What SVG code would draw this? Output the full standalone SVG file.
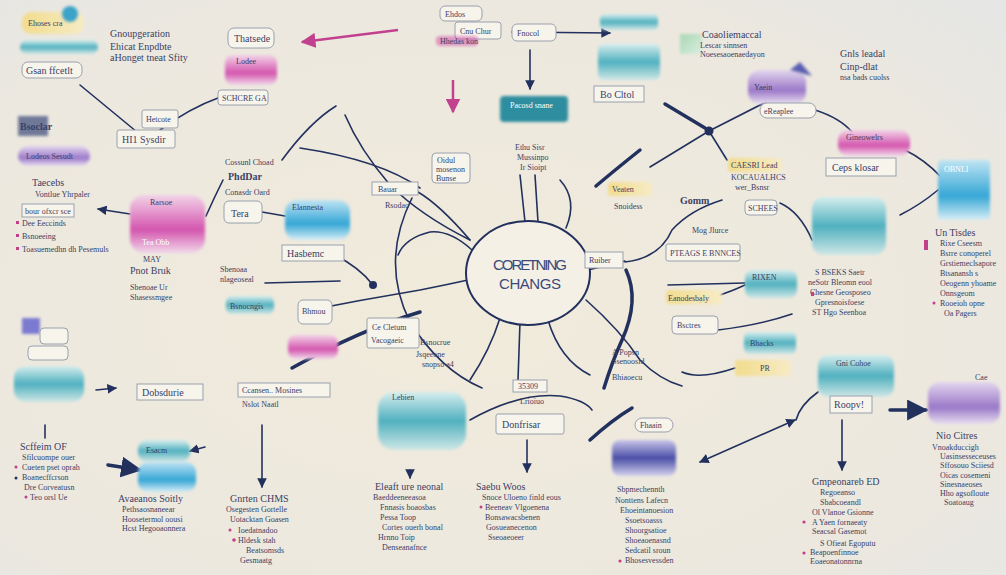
<svg xmlns="http://www.w3.org/2000/svg" width="1006" height="575" viewBox="0 0 1006 575">
<defs>
<radialGradient id="bg" cx="0.45" cy="0.55" r="0.8"><stop offset="0" stop-color="#f1ebdb"/><stop offset="0.7" stop-color="#ece8df"/><stop offset="1" stop-color="#e4e6e6"/></radialGradient>
<linearGradient id="gTeal" x1="0" y1="0" x2="0" y2="1"><stop offset="0" stop-color="#d6eeee"/><stop offset="0.5" stop-color="#4fb0bf"/><stop offset="1" stop-color="#cfe7e6"/></linearGradient>
<linearGradient id="gBlue" x1="0" y1="0" x2="0" y2="1"><stop offset="0" stop-color="#bfe4f3"/><stop offset="0.6" stop-color="#35a6d6"/><stop offset="1" stop-color="#d7eef5"/></linearGradient>
<linearGradient id="gPurple" x1="0" y1="0" x2="0" y2="1"><stop offset="0" stop-color="#e3d6ee"/><stop offset="0.6" stop-color="#9a78c8"/><stop offset="1" stop-color="#e8def0"/></linearGradient>
<linearGradient id="gPink" x1="0" y1="0" x2="0" y2="1"><stop offset="0" stop-color="#f2d3e8"/><stop offset="0.6" stop-color="#d455ae"/><stop offset="1" stop-color="#f1d7ea"/></linearGradient>
<linearGradient id="gYellow" x1="0" y1="0" x2="1" y2="0"><stop offset="0" stop-color="#f2dc8c"/><stop offset="1" stop-color="#f6ebc4"/></linearGradient>
<linearGradient id="gGreen" x1="0" y1="0" x2="1" y2="1"><stop offset="0" stop-color="#a9d7b2"/><stop offset="1" stop-color="#d9eee2"/></linearGradient>
<linearGradient id="gNavy" x1="0" y1="0" x2="0" y2="1"><stop offset="0" stop-color="#c9c6ea"/><stop offset="0.5" stop-color="#4a4ea6"/><stop offset="1" stop-color="#d4d2ee"/></linearGradient>
<filter id="soft" x="-20%" y="-20%" width="140%" height="140%"><feGaussianBlur stdDeviation="1.6"/></filter>
<marker id="ah" viewBox="0 0 10 10" refX="9" refY="5" markerWidth="6" markerHeight="6" orient="auto-start-reverse"><path d="M0,0 L10,5 L0,10 z" fill="#22305e"/></marker>
<marker id="ahp" viewBox="0 0 10 10" refX="9" refY="5" markerWidth="6" markerHeight="6" orient="auto"><path d="M0,0 L10,5 L0,10 z" fill="#c2418f"/></marker>
</defs>
<style>
.t{font-family:"Liberation Serif",serif;font-size:10px;fill:#3b4164}
.s{font-size:8px}
.w{fill:#ffffff}
.b{font-weight:bold}
.bx{fill:#f7f4ec;stroke:#9aa0ad;stroke-width:1}
.c{fill:none;stroke:#22305e;stroke-width:1.6;stroke-linecap:round}
.k{stroke-width:3.5}
.p{fill:none;stroke:#c2418f;stroke-width:2.5}
.dot{fill:#22305e}
.bl{filter:url(#soft)}
.bul{fill:#c0418a}
</style>
<rect width="1006" height="575" fill="url(#bg)"/>

<g id="connectors">
<path class="c" d="M80 85 L137 132"/>
<path class="c" d="M160 130 Q190 108 218 98"/>
<path class="c" d="M282 160 Q310 122 336 106"/>
<path class="c" marker-end="url(#ah)" d="M130 214 L98 209"/>
<path class="c" d="M206 216 Q214 198 223 180"/>
<path class="c" d="M262 212 L285 216"/>
<path class="c" d="M345 115 Q360 150 390 185 Q420 215 470 240"/>
<path class="c" d="M300 148 Q380 160 420 188"/>
<path class="c" d="M335 255 Q360 268 372 284"/>
<circle class="dot" cx="373" cy="285" r="4"/>
<path class="c" d="M265 283 L340 281"/>
<path class="c" d="M300 312 Q360 300 420 290 Q450 284 468 280"/>
<path class="c k" d="M292 368 Q360 330 420 312"/>
<path class="c" d="M412 198 Q380 262 410 322 Q440 370 482 388"/>
<path class="c" d="M470 240 Q440 205 418 192"/>
<path class="c" d="M520 175 L525 222"/>
<path class="c" d="M535 175 L538 222"/>
<path class="c" d="M560 180 Q578 200 566 228"/>
<path class="c" d="M472 250 Q450 230 430 232 Q405 238 398 255"/>
<path class="c" d="M588 270 L625 261"/>
<path class="c" d="M625 262 Q660 258 672 230 Q690 210 722 200"/>
<path class="c k" d="M626 270 Q640 300 622 340 Q612 362 604 388"/>
<path class="c" d="M586 300 Q620 330 640 360 Q660 380 682 386"/>
<path class="c" d="M548 320 Q560 360 590 375"/>
<path class="c" d="M500 318 Q490 350 470 380"/>
<path class="c" d="M520 322 L518 380"/>
<circle class="dot" cx="709" cy="131" r="4.5"/>
<path class="c" d="M709 131 L650 167"/>
<path class="c" d="M709 131 L766 102"/>
<path class="c" d="M709 131 L727 160"/>
<path class="c k" d="M665 104 L705 128"/>
<path class="c" d="M815 110 Q840 118 852 132"/>
<path class="c" d="M905 150 Q925 160 940 176"/>
<path class="c" d="M900 215 Q920 205 938 190"/>
<path class="c" d="M780 203 Q800 212 812 240"/>
<path class="c" d="M745 283 L668 285"/>
<path class="c k" d="M596 186 Q615 170 640 150"/>
<path class="c" d="M700 302 Q730 292 745 285"/>
<path class="c" d="M718 330 Q760 325 792 314"/>
<path class="c" d="M735 368 Q700 380 682 372"/>
<path class="c" d="M470 420 Q520 392 560 396 Q585 400 592 410"/>
<path class="c k" d="M590 440 Q612 420 632 408"/>
<path class="c" marker-start="url(#ah)" marker-end="url(#ah)" d="M700 462 L795 420"/>
<path class="c" d="M818 392 Q800 405 796 420"/>
<path class="c" marker-end="url(#ah)" d="M842 420 L842 470"/>
<path class="c" marker-end="url(#ah)" d="M527 440 L527 472"/>
<path class="c" marker-end="url(#ah)" d="M262 425 L262 487"/>
<path class="c k" marker-end="url(#ah)" d="M890 410 L926 410"/>
<path class="p" marker-end="url(#ahp)" d="M398 30 L302 42"/>
<path class="c" marker-end="url(#ah)" d="M512 32 L610 33"/>
<path class="c" marker-end="url(#ah)" d="M530 50 L530 89"/>
<path class="p" marker-end="url(#ahp)" d="M453 80 L453 112"/>
<path class="c k" marker-end="url(#ah)" d="M108 465 L140 470"/>
<path class="c" marker-end="url(#ah)" d="M205 447 L190 451"/>
<path class="c" marker-end="url(#ah)" d="M96 390 L116 388"/>
<path class="c" marker-end="url(#ah)" d="M410 470 L410 478"/>
<path class="c" d="M45 425 L45 438"/>
<path class="c" d="M400 440 Q420 425 440 405"/>
</g>

<g id="center"><ellipse cx="528" cy="273" rx="62" ry="52" fill="#f4f0e6" stroke="#22305e" stroke-width="2"/>
<text x="530" y="270" text-anchor="middle" font-family="Liberation Sans,sans-serif" font-size="15" fill="#3c4a78" textLength="74">CORETNING</text>
<text x="530" y="289" text-anchor="middle" font-family="Liberation Sans,sans-serif" font-size="15" fill="#3c4a78" textLength="62">CHANGS</text></g>

<g id="n1"><rect class="bl" x="22" y="12" width="62" height="22" rx="9" fill="url(#gYellow)"/><circle class="bl" cx="70" cy="14" r="8" fill="#3aa3c8"/><text class="t s" x="28" y="26">Ehoses cra</text>
<rect class="bl" x="20" y="40" width="78" height="14" rx="7" fill="url(#gTeal)"/>
<rect class="bx" x="22" y="62" width="60" height="16" rx="6"/><text class="t" x="26" y="74">Gsan ffcetlt</text></g>
<g id="n2"><text class="t" x="110" y="37">Gnoupgeration</text><text class="t" x="110" y="50">Ehicat Enpdbte</text><text class="t" x="110" y="61">aHonget tneat Sfity</text></g>
<g id="n3"><rect class="bx" x="228" y="28" width="46" height="20" rx="6" stroke="#9a78c8"/><text class="t" x="234" y="42" fill="#5b4a8a">Thatsede</text>
<rect class="bl" x="225" y="55" width="52" height="30" rx="8" fill="url(#gPink)"/><text class="t s" x="236" y="64">Lodee</text></g>
<g id="n4"><rect class="bx" x="218" y="90" width="50" height="15" rx="3"/><text class="t s" x="222" y="101">SCHCRE GA</text></g>
<g id="n5"><rect class="bx" x="142" y="110" width="36" height="18" rx="2" stroke="#4fb0bf"/><text class="t s" x="146" y="122">Hetcote</text>
<rect class="bx" x="117" y="130" width="58" height="18" rx="2"/><text class="t" x="122" y="143">HI1 Sysdir</text></g>
<g id="n6"><rect class="bl" x="18" y="116" width="30" height="20" fill="#3a4b7a" opacity="0.7"/><text class="t b" x="20" y="130" fill="#2e3a66">Bsoclar</text>
<rect class="bl" x="18" y="146" width="72" height="20" rx="10" fill="url(#gPurple)"/><text class="t s" x="26" y="159">Lodeos Sesudt</text>
<text class="t" x="32" y="186">Taecebs</text><text class="t s" x="35" y="197">Vontlue Yhrpaler</text></g>
<g id="n7"><rect class="bx" x="22" y="204" width="52" height="13"/><text class="t s" x="25" y="214">bour ofxcr sce</text>
<rect class="bul" x="16" y="221" width="3" height="3"/><text class="t s" x="22" y="226">Dee Eeccinds</text>
<rect class="bul" x="16" y="234" width="3" height="3"/><text class="t s" x="22" y="239">Bsnoeeing</text>
<rect class="bul" x="16" y="247" width="3" height="3"/><text class="t s" x="22" y="252">Toasuemedhn dh Pesemuls</text></g>
<g id="n8"><rect class="bl" x="130" y="195" width="75" height="58" rx="14" fill="url(#gPink)"/><text class="t s" x="150" y="205">Rarsoe</text><text class="t s w" x="142" y="245">Tea Obb</text></g>
<g id="n9"><text class="t s" x="225" y="165">Cossunl Choad</text><text class="t b" x="228" y="180" fill="#2f6f9a">PhdDar</text><text class="t s" x="225" y="195">Conasdr Oard</text>
<rect class="bx" x="224" y="201" width="38" height="22" rx="5" stroke="#4fb0bf"/><text class="t" x="231" y="217" font-size="13">Tera</text></g>
<g id="n10"><rect class="bl" x="285" y="200" width="65" height="40" rx="12" fill="url(#gBlue)"/><text class="t s" x="292" y="210">Elannesta</text>
<rect class="bx" x="282" y="245" width="62" height="16"/><text class="t" x="287" y="257">Hasbemc</text></g>
<g id="n11"><text class="t s" x="143" y="262">MAY</text><text class="t" x="130" y="274">Pnot Bruk</text><text class="t s" x="130" y="290">Sbenoae Ur</text><text class="t s" x="130" y="300">Shasessmgee</text></g>
<g id="n12"><text class="t s" x="220" y="272" fill="#3d8a5a">Sbenoaa</text><text class="t s" x="220" y="282" fill="#3d8a5a">nlageoseal</text>
<rect class="bl" x="226" y="296" width="48" height="18" rx="6" fill="url(#gTeal)"/><text class="t s" x="230" y="309">Bsnocngis</text>
<rect class="bx" x="298" y="300" width="34" height="24" rx="5"/><text class="t s" x="302" y="314">Bhmou</text>
<rect class="bl" x="288" y="335" width="50" height="24" rx="8" fill="url(#gPink)"/></g>
<g id="n13"><rect class="bl" x="22" y="318" width="18" height="16" fill="#7c7ad0"/><rect class="bx" x="40" y="328" width="28" height="16" rx="4"/><rect class="bx" x="28" y="346" width="40" height="14" rx="4" stroke="#4fb0bf"/>
<rect class="bl" x="14" y="366" width="70" height="36" rx="12" fill="url(#gTeal)"/></g>
<g id="n14"><rect class="bx" x="137" y="384" width="66" height="16"/><text class="t" x="142" y="396">Dobsdurie</text></g>
<g id="n15"><rect class="bx" x="238" y="383" width="92" height="14" stroke="#4fb0bf"/><text class="t s" x="242" y="393">Ccansen..  Mosines</text><text class="t s" x="242" y="407">Nslot Naatl</text></g>
<g id="n16"><text class="t" x="20" y="450">Scffeim OF</text>
<text class="t s" x="22" y="460">Sfilcuompe ouer</text><text class="t s" x="22" y="470">Cueten pset oprah</text><text class="t s" x="22" y="480">Boanecffcrson</text><text class="t s" x="24" y="490">Dre Corveatusn</text><text class="t s" x="30" y="500">Teo orsl Ue</text>
<circle class="bul" cx="16" cy="467" r="1.5"/><circle class="dot" cx="16" cy="478" r="1.5"/><circle class="bul" cx="26" cy="497" r="1.5"/></g>
<g id="n17"><rect class="bl" x="138" y="440" width="52" height="22" rx="9" fill="url(#gTeal)"/><text class="t s" x="146" y="453">Esacm</text>
<rect class="bl" x="138" y="462" width="58" height="30" rx="10" fill="url(#gBlue)"/></g>
<g id="n18"><text class="t" x="118" y="502">Avaeanos Soitly</text><text class="t s" x="122" y="512">Pethsaosnaneear</text><text class="t s" x="122" y="522">Hoosetermol oousi</text><text class="t s" x="122" y="531">Hcst Hegooaonnera</text></g>
<g id="n19"><text class="t" x="230" y="502">Gnrten CHMS</text><text class="t s" x="226" y="512">Osegesten Gortelle</text><text class="t s" x="230" y="522">Uotacktan Goasen</text>
<text class="t s" x="238" y="533">Ioedatnadoo</text><text class="t s" x="238" y="543">Hldesk stah</text><text class="t s" x="246" y="553">Beatsomsds</text><text class="t s" x="240" y="563">Gesmaatg</text>
<circle class="bul" cx="230" cy="530" r="1.5"/><circle class="bul" cx="234" cy="540" r="1.8"/></g>
<g id="n20"><rect class="bl" x="378" y="392" width="88" height="58" rx="16" fill="url(#gTeal)"/><text class="t s" x="392" y="400">Lebien</text></g>
<g id="n21"><text class="t" x="375" y="490">Eleaft ure neonal</text><text class="t s" x="373" y="500">Baeddeeneeasoa</text><text class="t s" x="380" y="510">Fnnasis boaosbas</text><text class="t s" x="380" y="520">Pessa Toop</text><text class="t s" x="382" y="530">Cortes ouerh bonal</text><text class="t s" x="378" y="540">Hrnno Toip</text><text class="t s" x="382" y="550">Denseanafnce</text></g>
<g id="n22"><text class="t" x="476" y="490">Saebu  Woos</text><text class="t s" x="482" y="500">Snoce Uloeno finld eous</text><text class="t s" x="485" y="510">Beeneav Vlgoenena</text><text class="t s" x="485" y="520">Bonsawacsbenen</text><text class="t s" x="486" y="530">Gosueanecenon</text><text class="t s" x="488" y="540">Sseoaeoeer</text><circle class="bul" cx="481" cy="507" r="1.5"/></g>
<g id="n23"><rect class="bx" x="513" y="380" width="34" height="12"/><text class="t s" x="518" y="389">35309</text><text class="t s" x="520" y="404">Lrioiuo</text>
<rect class="bx" x="496" y="414" width="68" height="20" rx="2" stroke="#6cb8c5"/><text class="t" x="502" y="428" fill="#2f5a84">Donfrisar</text></g>
<g id="n24"><rect class="bx" x="635" y="418" width="38" height="14" rx="7"/><text class="t s" x="640" y="428">Fhaain</text><rect class="bl" x="612" y="440" width="64" height="36" rx="8" fill="url(#gNavy)"/>
<text class="t s" x="617" y="492">Sbpmechennth</text><text class="t s" x="615" y="503">Nonttens Lafecn</text><text class="t s" x="620" y="513">Ehoeintanoesion</text><text class="t s" x="625" y="523">Ssoetsoasss</text><text class="t s" x="625" y="533">Shoorgsatioe</text><text class="t s" x="625" y="543">Shoeaoenasnd</text><text class="t s" x="625" y="553">Sedcatil sroun</text><text class="t s" x="625" y="563">Bhosesvessden</text>
<circle class="bul" cx="620" cy="561" r="1.6"/></g>
<g id="n26"><text class="t s" x="515" y="150">Ethu Sisr</text><text class="t s" x="517" y="160">Mussinpo</text><text class="t s" x="520" y="170">Ir Sioipt</text></g>
<g id="n27"><rect class="bx" x="432" y="153" width="38" height="30" rx="4" fill="#f3efe5"/><text class="t s" x="437" y="163">Oidul</text><text class="t s" x="436" y="172">mosenon</text><text class="t s" x="436" y="181">Bunse</text></g>
<g id="n28"><rect class="bx" x="372" y="182" width="46" height="13"/><text class="t s" x="378" y="192">Bauar</text><text class="t s" x="385" y="208">Rsodao</text></g>
<g id="n29"><rect class="bx" x="367" y="318" width="52" height="30" rx="2"/><text class="t s" x="372" y="330">Ce Cletum</text><text class="t s" x="371" y="343">Vacogaeic</text></g>
<g id="n30"><text class="t s" x="420" y="345">Bsnocrue</text><text class="t s" x="416" y="357">Jsqeeone</text><text class="t s" x="422" y="367">snopso a4</text></g>
<g id="n31"><rect class="bx" x="585" y="252" width="38" height="16"/><text class="t s" x="589" y="263">Ruiber</text></g>
<g id="n32"><rect class="bl" x="608" y="182" width="44" height="14" rx="4" fill="url(#gYellow)"/><text class="t s" x="612" y="192">Veaten</text><text class="t s" x="614" y="209">Snoidess</text></g>
<g id="n33"><text class="t s" x="612" y="355">A Popsn</text><text class="t s" x="612" y="364">Ssenoosid</text><text class="t s" x="612" y="380">Bhiaoecu</text></g>
<g id="n34"><rect class="bx" x="440" y="6" width="42" height="15" rx="5"/><text class="t s" x="445" y="17">Ehdos</text>
<rect class="bx" x="455" y="22" width="46" height="17" rx="3"/><text class="t s" x="460" y="34">Cnu  Chur</text>
<rect class="bl" x="436" y="36" width="42" height="10" rx="4" fill="#d460b0" opacity="0.6"/><text class="t s" x="440" y="44">Hhedas kon</text></g>
<g id="n35"><rect class="bx" x="512" y="24" width="44" height="17" rx="5"/><text class="t s" x="517" y="36">Fnocol</text></g>
<g id="n36"><rect class="bl" x="500" y="96" width="68" height="26" rx="4" fill="#2f8d9e"/><text class="t s w" x="510" y="108">Pacosd snane</text></g>
<g id="n37"><rect class="bl" x="600" y="14" width="58" height="16" rx="5" fill="url(#gTeal)"/><rect class="bl" x="598" y="44" width="62" height="36" rx="6" fill="url(#gTeal)"/>
<rect class="bx" x="594" y="86" width="50" height="16"/><text class="t" x="600" y="98">Bo Cltol</text></g>
<g id="n38"><rect class="bl" x="680" y="34" width="22" height="20" fill="url(#gGreen)"/><text class="t" x="702" y="38">Coaoliemaccal</text><text class="t s" x="700" y="48">Lescar sinnsen</text><text class="t s" x="700" y="57">Noesesaoenaedayon</text></g>
<g id="n39"><text class="t" x="840" y="57">Gnls leadal</text><text class="t" x="840" y="70" fill="#6a4e8a">Cinp-dlat</text><text class="t s" x="840" y="80">nsa bads cuolss</text></g>
<g id="n40"><rect class="bl" x="748" y="70" width="58" height="34" rx="12" fill="url(#gPurple)"/><path class="bl" d="M790 70 L800 62 L812 76" fill="#5a5fb0"/><text class="t s" x="754" y="90">Yaein</text>
<rect class="bx" x="760" y="103" width="56" height="15" rx="7"/><text class="t s" x="764" y="114">eReaplee</text></g>
<g id="n41"><rect class="bl" x="838" y="130" width="72" height="26" rx="10" fill="url(#gPink)"/><text class="t s" x="846" y="140">Gineowelrs</text>
<rect class="bx" x="826" y="158" width="70" height="18"/><text class="t" x="832" y="171">Ceps klosar</text></g>
<g id="n42"><rect class="bl" x="938" y="160" width="52" height="60" rx="4" fill="url(#gBlue)"/><text class="t s w" x="944" y="172">OBNLI</text></g>
<g id="n43"><rect class="bl" x="728" y="158" width="54" height="14" rx="4" fill="url(#gYellow)"/><text class="t s" x="731" y="168">CAESRI Lead</text><text class="t s" x="731" y="180">KOCAUALHCS</text><text class="t s" x="735" y="190">wer_Bsnsr</text></g>
<g id="n44"><text class="t b" x="680" y="204" fill="#2f7d8a">Gomm</text><rect class="bx" x="745" y="200" width="32" height="15" rx="4" stroke="#d7c06a"/><text class="t s" x="748" y="211">SCHEES</text><text class="t s" x="692" y="233">Mog Jlurce</text></g>
<g id="n45"><rect class="bl" x="812" y="197" width="74" height="58" rx="12" fill="url(#gTeal)"/></g>
<g id="n46"><rect class="bx" x="666" y="244" width="74" height="17" rx="2"/><text class="t s" x="670" y="256">PTEAGS E BNNCES</text></g>
<g id="n47"><text class="t" x="935" y="236">Un Tisdes</text><rect class="bul" x="924" y="240" width="4" height="10"/><text class="t s" x="940" y="246">Rixe Cseesm</text><text class="t s" x="940" y="256">Bsrre conoperel</text><text class="t s" x="940" y="266">Grstiemeclsapore</text><text class="t s" x="940" y="276">Btsanansh s</text><text class="t s" x="940" y="286">Oeogenn yhoame</text><text class="t s" x="940" y="296">Onnsgeom</text><text class="t s" x="940" y="306">Rooeioh opne</text><text class="t s" x="944" y="316">Oa Pagers</text><circle class="bul" cx="934" cy="303" r="1.5"/></g>
<g id="n48"><rect class="bl" x="745" y="270" width="52" height="28" rx="8" fill="url(#gTeal)"/><text class="t s" x="752" y="280">RIXEN</text>
<rect class="bl" x="666" y="290" width="56" height="14" rx="4" fill="url(#gYellow)"/><text class="t s" x="668" y="301">Eanodesbaly</text>
<rect class="bx" x="672" y="316" width="46" height="18" rx="4"/><text class="t s" x="677" y="328">Bsctres</text>
<rect class="bl" x="744" y="332" width="52" height="22" rx="5" fill="url(#gTeal)"/><text class="t s" x="750" y="346">Bhacks</text>
<rect class="bl" x="735" y="360" width="56" height="16" rx="4" fill="url(#gYellow)"/><text class="t s" x="760" y="371">PR</text></g>
<g id="n49"><text class="t s" x="815" y="275">S BSEKS Saetr</text><text class="t s" x="808" y="285">neSotr Bleomn eool</text><text class="t s" x="810" y="295">Chesne Geosposeo</text><text class="t s" x="815" y="305">Gpresnoisfoese</text><text class="t s" x="812" y="315">ST Hgo Seenboa</text><rect class="bul" x="811" y="292" width="3" height="4"/></g>
<g id="n50"><rect class="bl" x="818" y="355" width="76" height="42" rx="10" fill="url(#gTeal)"/><text class="t s" x="836" y="366">Gni Cohoe</text>
<rect class="bx" x="830" y="396" width="42" height="17"/><text class="t" x="834" y="408">Roopv!</text></g>
<g id="n51"><rect class="bl" x="928" y="382" width="72" height="42" rx="12" fill="url(#gPurple)"/><text class="t s" x="975" y="380">Cae</text></g>
<g id="n52"><text class="t" x="936" y="439">Nio Citres</text><text class="t s" x="932" y="450">Vnoakduccigh</text><text class="t s" x="940" y="459">Uasinsesseceuses</text><text class="t s" x="940" y="468">Sffosouo Sciiesd</text><text class="t s" x="940" y="478">Oicas cosemeni</text><text class="t s" x="940" y="487">Sinesnaeoses</text><text class="t s" x="940" y="496">Hho agsofloute</text><text class="t s" x="944" y="505">Soatoaug</text></g>
<g id="n53"><text class="t" x="812" y="485">Gmpeonareb ED</text><text class="t s" x="820" y="495">Regoeanso</text><text class="t s" x="820" y="505">Sbabcoeandl</text><text class="t s" x="812" y="515">Ol Vlanoe Gsionne</text><text class="t s" x="812" y="525">A Yaen fornaeaty</text><text class="t s" x="812" y="534">Seacsal Gasemot</text><text class="t s" x="820" y="546">S Ofieat Egoputu</text><text class="t s" x="810" y="555">Beapoenfinnoe</text><text class="t s" x="810" y="564">Eoaeonatonnrna</text>
<circle class="bul" cx="804" cy="522" r="1.6"/><circle class="bul" cx="804" cy="553" r="1.6"/></g>
</svg>
